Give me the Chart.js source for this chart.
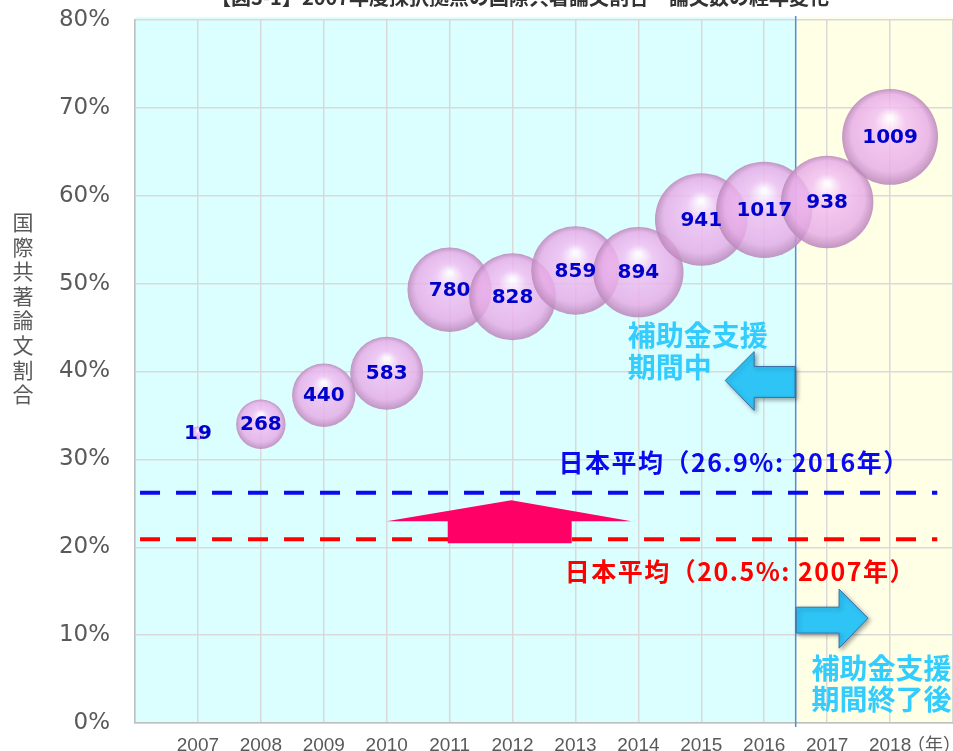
<!DOCTYPE html>
<html>
<head>
<meta charset="utf-8">
<script src="https://cdn.jsdelivr.net/npm/chart.js@4/dist/chart.umd.min.js"></script>
<style>
  body { margin: 0; background: #fff; }
  canvas { display: block; }
</style>
</head>
<body>
<canvas id="chart_share" width="953" height="751"></canvas>
<script>
const years = [2007, 2008, 2009, 2010, 2011, 2012, 2013, 2014, 2015, 2016, 2017, 2018];
const shares = [33.0, 34.0, 37.3, 39.8, 49.3, 48.5, 51.5, 51.3, 57.3, 58.4, 59.3, 66.7];
const papers = [19, 268, 440, 583, 780, 828, 859, 894, 941, 1017, 938, 1009];
const yTicks = [0, 10, 20, 30, 40, 50, 60, 70, 80];
// japan averages, as drawn in the picture
const avg2016 = 26.2;
const avg2007 = 20.9;
const lineFrom = 2006.08, lineTo = 2018.75;
const supportEnd = 2016.5;

const bubbleR = v => 1.51 * Math.sqrt(v);

function bubbleFill(ctx) {
  const chart = ctx.chart;
  const i = ctx.dataIndex;
  if (!chart.chartArea || i == null) return 'rgba(234,176,234,0.85)';
  const px = chart.scales.x.getPixelForValue(years[i]);
  const py = chart.scales.y.getPixelForValue(shares[i]);
  const r = bubbleR(papers[i]);
  const g = chart.ctx.createRadialGradient(px, py - r * 0.4, r * 0.04, px, py, r);
  g.addColorStop(0, 'rgba(255,252,255,0.9)');
  g.addColorStop(0.3, 'rgba(242,190,242,0.82)');
  g.addColorStop(0.8, 'rgba(230,170,230,0.82)');
  g.addColorStop(1, 'rgba(186,136,186,0.88)');
  return g;
}

// keep the plot box where the picture has it
const noPad = s => { s.paddingLeft = s.paddingRight = s.paddingTop = s.paddingBottom = 0; };

const extras = {
  id: 'extras',
  beforeDraw(chart) {
    const { ctx, chartArea: a, scales: { x } } = chart;
    const mid = x.getPixelForValue(supportEnd);
    ctx.save();
    ctx.fillStyle = '#dbffff';
    ctx.fillRect(a.left, a.top - 3, mid - a.left, a.bottom - a.top + 3);
    ctx.fillStyle = '#ffffe6';
    ctx.fillRect(mid, a.top - 3, a.right - mid, a.bottom - a.top + 3);
    // cut-off title at the very top
    ctx.fillStyle = '#333333';
    ctx.font = 'bold 20px "Noto Sans CJK JP"';
    ctx.textAlign = 'center';
    ctx.textBaseline = 'bottom';
    ctx.fillText('【図3-1】2007年度採択拠点の国際共著論文割合・論文数の経年変化', 520, 7);
    // vertical axis title, stacked characters
    ctx.fillStyle = '#595959';
    ctx.font = '21px "Noto Sans CJK JP"';
    ctx.textBaseline = 'middle';
    Array.from('国際共著論文割合').forEach((c, k) => ctx.fillText(c, 23, 222 + k * 24.6));
    // year unit
    ctx.font = '18px "Noto Sans CJK JP"';
    ctx.fillText('（年）', x.getPixelForValue(2018.7), a.bottom + 21);
    ctx.restore();
  },
  beforeDatasetsDraw(chart) {
    const { ctx, chartArea: a, scales: { x } } = chart;
    const mid = x.getPixelForValue(supportEnd);
    ctx.save();
    ctx.strokeStyle = '#4a8ee0';
    ctx.lineWidth = 1.5;
    ctx.beginPath();
    ctx.moveTo(mid, a.top - 4);
    ctx.lineTo(mid, a.bottom + 4);
    ctx.stroke();
    ctx.restore();
  },
  afterDatasetsDraw(chart) {
    const { ctx, scales: { x, y } } = chart;
    const P = (xv, yv) => [x.getPixelForValue(xv), y.getPixelForValue(yv)];
    const poly = (pts, fill, stroke) => {
      ctx.beginPath();
      pts.forEach((p, k) => { const [px, py] = P(p[0], p[1]); k ? ctx.lineTo(px, py) : ctx.moveTo(px, py); });
      ctx.closePath();
      ctx.fillStyle = fill;
      ctx.fill();
      if (stroke) { ctx.strokeStyle = stroke; ctx.lineWidth = 1; ctx.stroke(); }
    };
    ctx.save();
    // pink rise arrow
    poly([[2010.97, 20.45], [2010.97, 22.95], [2010.0, 22.95], [2011.98, 25.34],
          [2013.89, 22.95], [2012.94, 22.95], [2012.94, 20.45]], '#ff0066');
    // blue arrows
    ctx.shadowColor = 'rgba(0,0,0,0.35)';
    ctx.shadowBlur = 4;
    ctx.shadowOffsetX = 2;
    ctx.shadowOffsetY = 2;
    poly([[2016.49, 40.57], [2015.84, 40.57], [2015.84, 42.27], [2015.38, 38.98],
          [2015.84, 35.57], [2015.84, 37.05], [2016.49, 37.05]], '#2ec4f6', '#3b6fa8');
    poly([[2016.51, 13.18], [2017.19, 13.18], [2017.19, 15.23], [2017.65, 11.93],
          [2017.19, 8.52], [2017.19, 10.23], [2016.51, 10.23]], '#2ec4f6', '#3b6fa8');
    ctx.shadowColor = 'transparent';
    // notes
    ctx.textBaseline = 'middle';
    ctx.textAlign = 'left';
    ctx.font = 'bold 28px "Noto Sans CJK JP"';
    ctx.fillStyle = '#33ccff';
    let p = P(2013.83, 44.1); ctx.fillText('補助金支援', p[0], p[1]);
    p = P(2013.83, 40.45); ctx.fillText('期間中', p[0], p[1]);
    p = P(2016.75, 6.25); ctx.fillText('補助金支援', p[0], p[1]);
    p = P(2016.75, 2.73); ctx.fillText('期間終了後', p[0], p[1]);
    ctx.font = 'bold 25px "Noto Sans CJK JP"';
    ctx.letterSpacing = '1.5px';
    ctx.fillStyle = '#0a0af0';
    p = P(2012.73, 29.66); ctx.fillText('日本平均（26.9%: 2016年）', p[0], p[1]);
    ctx.fillStyle = '#ff0000';
    p = P(2012.83, 17.27); ctx.fillText('日本平均（20.5%: 2007年）', p[0], p[1]);
    ctx.letterSpacing = '0px';
    // bubble labels
    ctx.textAlign = 'center';
    ctx.font = 'bold 20px "DejaVu Sans"';
    ctx.fillStyle = '#0000cc';
    chart.getDatasetMeta(0).data.forEach((el, i) => ctx.fillText(String(papers[i]), el.x, el.y + 1));
    ctx.restore();
  }
};

const data = {
  datasets: [
    {
      type: 'bubble',
      label: '論文数',
      data: years.map((yr, i) => ({ x: yr, y: shares[i], r: bubbleR(papers[i]) })),
      backgroundColor: bubbleFill,
      borderWidth: 0,
      clip: false,
      order: 0
    },
    {
      type: 'line',
      label: '日本平均 2016',
      data: [{ x: lineFrom, y: avg2016 }, { x: lineTo, y: avg2016 }],
      borderColor: '#0a0af0',
      borderWidth: 4,
      borderDash: [20, 16],
      pointRadius: 0,
      order: 2
    },
    {
      type: 'line',
      label: '日本平均 2007',
      data: [{ x: lineFrom, y: avg2007 }, { x: lineTo, y: avg2007 }],
      borderColor: '#ff0000',
      borderWidth: 4,
      borderDash: [20, 16],
      pointRadius: 0,
      order: 2
    }
  ]
};

const config = {
  type: 'bubble',
  data,
  options: {
    responsive: false,
    animation: false,
    layout: { autoPadding: false, padding: { top: 20, right: 0, bottom: 0, left: 0 } },
    plugins: { legend: { display: false }, tooltip: { enabled: false } },
    scales: {
      x: {
        type: 'linear',
        min: 2006,
        max: 2019,
        afterFit: s => { s.height = 28; noPad(s); },
        afterBuildTicks: s => { s.ticks = Array.from({ length: 14 }, (_, k) => ({ value: 2006 + k })); },
        grid: { color: '#d9d9d9', lineWidth: 1.5, drawTicks: false },
        border: { color: '#bfbfbf', width: 1.5 },
        ticks: {
          padding: 11,
          maxRotation: 0,
          autoSkip: false,
          color: '#595959',
          font: { family: '"Liberation Sans"', size: 19 },
          callback: v => (years.includes(v) ? String(v) : '')
        }
      },
      y: {
        min: 0,
        max: 80,
        afterFit: s => { s.width = 135; noPad(s); },
        afterBuildTicks: s => { s.ticks = yTicks.map(v => ({ value: v })); },
        grid: { color: '#d9d9d9', lineWidth: 1.5, drawTicks: false },
        border: { color: '#bfbfbf', width: 1.5 },
        ticks: {
          padding: 25,
          color: '#595959',
          font: { family: '"DejaVu Sans"', size: 23 },
          callback: v => v + '%'
        }
      }
    }
  },
  plugins: [extras]
};

var myChart = new Chart(document.getElementById('chart_share'), config);
</script>
</body>
</html>
